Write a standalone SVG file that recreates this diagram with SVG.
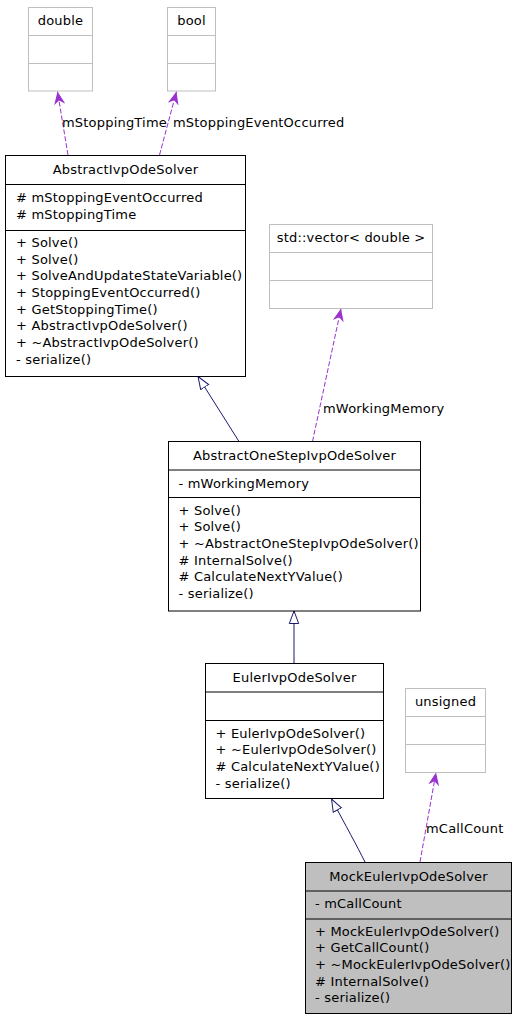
<svg xmlns="http://www.w3.org/2000/svg" width="515" height="1019" viewBox="0 0 515 1019">
<defs>
<style>
text{font-family:"DejaVu Sans","Liberation Sans",sans-serif;font-size:13px;letter-spacing:0.2px;fill:#000}
.c{text-anchor:middle}
.cls rect,.cls line{fill:#fff;stroke:#000;stroke-width:1}
.ext rect,.ext line{fill:#fff;stroke:#bfbfbf;stroke-width:1}
.mock rect{fill:#bfbfbf;stroke:#000;stroke-width:1}
.mock line{stroke:#000;stroke-width:1}
.inh{fill:none;stroke:#191970;stroke-width:1;marker-end:url(#tri)}
.use{fill:none;stroke:#9a32cd;stroke-width:1;stroke-dasharray:5,2;marker-end:url(#vee)}
</style>
<marker id="tri" viewBox="0 -6 14 12" refX="13" refY="0" markerWidth="14" markerHeight="12" markerUnits="userSpaceOnUse" orient="auto">
<path d="M0.5,-4.7 L13,0 L0.5,4.7 z" fill="#fff" stroke="#191970" stroke-width="1"/>
</marker>
<marker id="vee" viewBox="0 -6 14 12" refX="13" refY="0" markerWidth="14" markerHeight="12" markerUnits="userSpaceOnUse" orient="auto">
<path d="M0,-5.5 L13,0 L0,5.5 L4,0 z" fill="#9a32cd" stroke="none"/>
</marker>
</defs>

<g id="connectors">
<path class="use" d="M68,155 L57.5,91.5"/>
<path class="use" d="M159.5,155 L176.5,91.5"/>
<path class="use" d="M312.5,441.5 L341,308.5"/>
<path class="use" d="M420,862 L436,772.5"/>
<path class="inh" d="M239,441.5 L198,376.5"/>
<path class="inh" d="M294,663.5 L294,611"/>
<path class="inh" d="M365,862 C357,846 346,826 331.5,799"/>
<text x="62" y="127">mStoppingTime</text>
<text x="173" y="127">mStoppingEventOccurred</text>
<text x="323" y="413">mWorkingMemory</text>
<text x="426" y="833">mCallCount</text>
</g>

<g id="double" class="ext">
<rect x="28.5" y="7.5" width="64" height="83.5"/>
<line x1="28.5" y1="35.5" x2="92.5" y2="35.5"/>
<line x1="28.5" y1="63.5" x2="92.5" y2="63.5"/>
<text class="c" x="60.5" y="25">double</text>
</g>

<g id="bool" class="ext">
<rect x="167.5" y="7.5" width="48" height="83.5"/>
<line x1="167.5" y1="35.5" x2="215.5" y2="35.5"/>
<line x1="167.5" y1="63.5" x2="215.5" y2="63.5"/>
<text class="c" x="191.5" y="25">bool</text>
</g>

<g id="AbstractIvpOdeSolver" class="cls">
<rect x="5.5" y="155.5" width="240" height="221"/>
<line x1="5.5" y1="184.5" x2="245.5" y2="184.5"/>
<line x1="5.5" y1="230.5" x2="245.5" y2="230.5"/>
<text class="c" x="125.5" y="174">AbstractIvpOdeSolver</text>
<text x="16" y="202"># mStoppingEventOccurred</text>
<text x="16" y="218.7"># mStoppingTime</text>
<text x="16" y="247">+ Solve()</text>
<text x="16" y="263.7">+ Solve()</text>
<text x="16" y="280.3">+ SolveAndUpdateStateVariable()</text>
<text x="16" y="297">+ StoppingEventOccurred()</text>
<text x="16" y="313.7">+ GetStoppingTime()</text>
<text x="16" y="330.3">+ AbstractIvpOdeSolver()</text>
<text x="16" y="347">+ ~AbstractIvpOdeSolver()</text>
<text x="16" y="363.7">- serialize()</text>
</g>

<g id="vector" class="ext">
<rect x="269.5" y="224.5" width="163" height="84"/>
<line x1="269.5" y1="252.5" x2="432.5" y2="252.5"/>
<line x1="269.5" y1="280.5" x2="432.5" y2="280.5"/>
<text class="c" x="351" y="242">std::vector&lt; double &gt;</text>
</g>

<g id="AbstractOneStepIvpOdeSolver" class="cls">
<rect x="168.5" y="441.5" width="252" height="169.5"/>
<line x1="168.5" y1="470" x2="420.5" y2="470"/>
<line x1="168.5" y1="497.5" x2="420.5" y2="497.5"/>
<text class="c" x="294.5" y="459.5">AbstractOneStepIvpOdeSolver</text>
<text x="178.5" y="487.5">- mWorkingMemory</text>
<text x="178.5" y="514.5">+ Solve()</text>
<text x="178.5" y="531.2">+ Solve()</text>
<text x="178.5" y="547.8">+ ~AbstractOneStepIvpOdeSolver()</text>
<text x="178.5" y="564.5"># InternalSolve()</text>
<text x="178.5" y="581.2"># CalculateNextYValue()</text>
<text x="178.5" y="597.8">- serialize()</text>
</g>

<g id="EulerIvpOdeSolver" class="cls">
<rect x="205.5" y="663.5" width="178" height="135"/>
<line x1="205.5" y1="692" x2="383.5" y2="692"/>
<line x1="205.5" y1="720.5" x2="383.5" y2="720.5"/>
<text class="c" x="294.5" y="681.5">EulerIvpOdeSolver</text>
<text x="215.5" y="737.5">+ EulerIvpOdeSolver()</text>
<text x="215.5" y="754.2">+ ~EulerIvpOdeSolver()</text>
<text x="215.5" y="770.8"># CalculateNextYValue()</text>
<text x="215.5" y="787.5">- serialize()</text>
</g>

<g id="unsigned" class="ext">
<rect x="405.5" y="688.5" width="80" height="84"/>
<line x1="405.5" y1="716.5" x2="485.5" y2="716.5"/>
<line x1="405.5" y1="744.5" x2="485.5" y2="744.5"/>
<text class="c" x="445.5" y="706">unsigned</text>
</g>

<g id="MockEulerIvpOdeSolver" class="mock">
<rect x="305.5" y="862.5" width="206" height="151"/>
<line x1="305.5" y1="891" x2="511.5" y2="891"/>
<line x1="305.5" y1="919" x2="511.5" y2="919"/>
<text class="c" x="408.5" y="880.5">MockEulerIvpOdeSolver</text>
<text x="315" y="908">- mCallCount</text>
<text x="315" y="935.5">+ MockEulerIvpOdeSolver()</text>
<text x="315" y="952.2">+ GetCallCount()</text>
<text x="315" y="968.8">+ ~MockEulerIvpOdeSolver()</text>
<text x="315" y="985.5"># InternalSolve()</text>
<text x="315" y="1002.2">- serialize()</text>
</g>
</svg>
